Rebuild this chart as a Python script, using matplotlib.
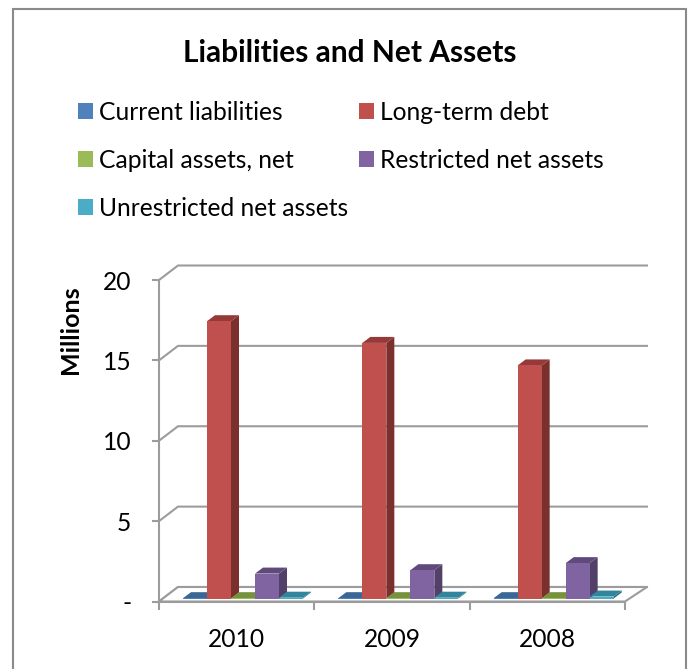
import matplotlib
matplotlib.use('Agg')
import matplotlib.pyplot as plt
from matplotlib.patches import Patch, Polygon, Rectangle

plt.rcParams['font.family'] = ['Lato', 'DejaVu Sans']

# Values in millions
years = ['2010', '2009', '2008']
current_liabilities = [0.02, 0.02, 0.02]
long_term_debt = [17.25, 15.9, 14.5]
capital_assets = [0.02, 0.02, 0.02]
restricted_net_assets = [1.55, 1.76, 2.2]
unrestricted_net_assets = [0.05, 0.05, 0.12]

series_names = ['Current liabilities', 'Long-term debt', 'Capital assets, net',
                'Restricted net assets', 'Unrestricted net assets']
series_values = [current_liabilities, long_term_debt, capital_assets,
                 restricted_net_assets, unrestricted_net_assets]
front_colors = ['#4F81BD', '#C0504D', '#9BBB59', '#8064A2', '#4BACC6']
top_colors = ['#3A6796', '#953A38', '#76923C', '#604A7B', '#31859C']
side_colors = ['#2F5378', '#7B302E', '#5F7530', '#524068', '#276B7E']
y_ticks = [0, 5, 10, 15, 20]
y_tick_labels = ['-', '5', '10', '15', '20']

W, H = 688, 669
GREY = '#9C9C9C'
FONT = 17.7

fig = plt.figure(figsize=(W / 100, H / 100), dpi=100)

# Outer chart border, runs off the bottom of the canvas
fig.add_artist(Rectangle((13 / W, -0.05), 673 / W, 1.05 - 9 / H, transform=fig.transFigure,
                         facecolor='white', edgecolor='#8A8A8A', linewidth=1.5, zorder=-1))

ax = fig.add_axes([159 / W, (H - 601.5) / H, 466 / W, 321.5 / H])
ax.set_xlim(0, 3)
ax.set_ylim(0, 20)
ax.patch.set_alpha(0)

# pixel sizes expressed in data units
px = 3 / 466
py = 20 / 321.5


def back_x(x):
    # the rear of the floor is a little wider than the front
    return x + (19 + x) * px


back_y = 14.5 * py

# Floor and walls
for y in y_ticks:
    ax.plot([0, back_x(0), back_x(3)], [y, y + back_y, y + back_y], color=GREY, lw=1.5,
            clip_on=False, zorder=1, solid_joinstyle='miter')
ax.add_patch(Polygon([(0, 0), (3, 0), (back_x(3), back_y), (back_x(0), back_y)], closed=True,
                     facecolor='white', edgecolor=GREY, lw=1.5, clip_on=False, zorder=1.5))

# Bars as front, top and side faces
bar_w = 24 * px
depth_x = 8 * px
depth_y = 6 * py
start = 24 * px
base = 3 * py

for s, values in enumerate(series_values):
    for i, v in enumerate(values):
        x0 = i + start + s * bar_w
        x1 = x0 + bar_w
        y0 = base
        y1 = base + v
        z = 2 + s * 0.1
        ax.add_patch(Polygon([(x1, y0), (x1 + depth_x, y0 + depth_y), (x1 + depth_x, y1 + depth_y), (x1, y1)],
                             closed=True, facecolor=side_colors[s], edgecolor='none', clip_on=False, zorder=z))
        ax.add_patch(Polygon([(x0, y1), (x1, y1), (x1 + depth_x, y1 + depth_y), (x0 + depth_x, y1 + depth_y)],
                             closed=True, facecolor=top_colors[s], edgecolor='none', clip_on=False, zorder=z))
        ax.add_patch(Rectangle((x0, y0), bar_w, v, facecolor=front_colors[s], edgecolor='none',
                               clip_on=False, zorder=z + 0.01))

# Axes
for side in ['top', 'right']:
    ax.spines[side].set_visible(False)
for side in ['left', 'bottom']:
    ax.spines[side].set_color(GREY)
    ax.spines[side].set_linewidth(1.5)
    ax.spines[side].set_zorder(5)

ax.set_yticks(y_ticks)
ax.set_yticklabels(y_tick_labels)
ax.tick_params(axis='y', length=5, width=1.5, color=GREY, labelsize=FONT, pad=15, labelcolor='black')
ax.set_xticks([0, 1, 2, 3])
ax.set_xticklabels([])
ax.tick_params(axis='x', which='major', length=5.5, width=1.5, color=GREY)
ax.set_xticks([0.5, 1.5, 2.5], labels=years, minor=True)
ax.tick_params(axis='x', which='minor', length=0, labelsize=FONT, pad=19)

fig.text(70 / W, 1 - 330 / H, 'Millions', rotation=90, ha='center', va='center',
         fontsize=18, fontweight='bold')
fig.text(350 / W, 1 - 53 / H, 'Liabilities and Net Assets', ha='center', va='center',
         fontsize=21.5, fontweight='bold')

# Legend, filled column by column
order = [0, 2, 4, 1, 3]
handles = [Patch(facecolor=front_colors[k], edgecolor='none') for k in order]
labels = [series_names[k] for k in order]
swatch = 15 * 0.72 / FONT
fig.legend(handles, labels, ncols=2, loc='upper left', bbox_to_anchor=(78 / W, 1 - 101 / H),
           frameon=False, fontsize=FONT, handlelength=swatch, handleheight=swatch,
           handletextpad=0.25, labelspacing=1.01, columnspacing=0.45, borderpad=0, borderaxespad=0)

fig.savefig('out.png', dpi=100)
